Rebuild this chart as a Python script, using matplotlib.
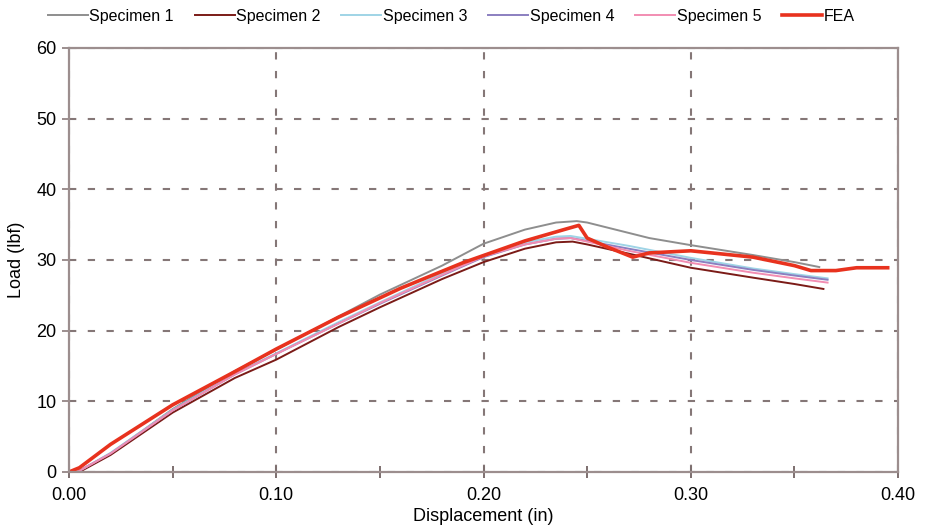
import numpy as np
import matplotlib
matplotlib.use("Agg")
from matplotlib import pyplot as plt
from matplotlib.ticker import MultipleLocator

plt.rcParams['font.family'] = ['Liberation Sans', 'DejaVu Sans']

# test curves (displacement in, load lbf)
x1 = [0.004, 0.02, 0.05, 0.08, 0.10, 0.13, 0.15, 0.18, 0.20, 0.22, 0.235, 0.245, 0.25, 0.265, 0.28, 0.30, 0.33, 0.35, 0.362]
y1 = [0.0, 2.6, 8.9, 14.3, 17.3, 22.0, 25.1, 29.2, 32.3, 34.3, 35.3, 35.5, 35.3, 34.2, 33.1, 32.1, 30.7, 29.7, 29.0]

x2 = [0.005, 0.02, 0.05, 0.08, 0.10, 0.13, 0.15, 0.18, 0.20, 0.22, 0.235, 0.243, 0.25, 0.27, 0.30, 0.33, 0.35, 0.364]
y2 = [0.0, 2.4, 8.4, 13.3, 15.9, 20.5, 23.3, 27.3, 29.7, 31.6, 32.5, 32.6, 32.2, 30.9, 28.9, 27.5, 26.6, 25.9]

x3 = [0.004, 0.02, 0.05, 0.08, 0.10, 0.13, 0.15, 0.18, 0.20, 0.22, 0.235, 0.242, 0.25, 0.27, 0.30, 0.33, 0.35, 0.366]
y3 = [0.0, 2.7, 8.8, 13.9, 16.8, 21.2, 24.0, 28.1, 30.7, 32.5, 33.3, 33.4, 33.0, 32.0, 30.3, 28.8, 28.0, 27.4]

x4 = [0.004, 0.02, 0.05, 0.08, 0.10, 0.13, 0.15, 0.18, 0.20, 0.22, 0.235, 0.242, 0.25, 0.27, 0.30, 0.33, 0.35, 0.366]
y4 = [0.0, 2.6, 8.7, 13.8, 16.7, 21.0, 23.8, 27.8, 30.4, 32.2, 33.0, 33.1, 32.7, 31.6, 30.0, 28.6, 27.8, 27.2]

x5 = [0.004, 0.02, 0.05, 0.08, 0.10, 0.13, 0.15, 0.18, 0.20, 0.22, 0.235, 0.242, 0.25, 0.27, 0.30, 0.33, 0.35, 0.366]
y5 = [0.0, 2.6, 8.7, 13.8, 16.7, 21.0, 23.9, 27.9, 30.5, 32.2, 33.0, 33.1, 32.6, 31.3, 29.6, 28.2, 27.4, 26.8]

x_fea = [0.0, 0.005, 0.02, 0.05, 0.08, 0.10, 0.13, 0.16, 0.19, 0.22, 0.24, 0.246, 0.25, 0.26, 0.272, 0.28, 0.30, 0.33, 0.35, 0.358, 0.37, 0.38, 0.395]
y_fea = [0.0, 0.6, 3.9, 9.5, 14.2, 17.4, 21.9, 26.0, 29.6, 32.7, 34.4, 34.9, 33.1, 31.8, 30.4, 31.0, 31.3, 30.4, 29.2, 28.5, 28.5, 28.9, 28.9]

series = [
    ("Specimen 1", x1, y1, "#8e8e8e", 1.4),
    ("Specimen 2", x2, y2, "#7b1b17", 1.4),
    ("Specimen 3", x3, y3, "#9fd4e6", 1.4),
    ("Specimen 4", x4, y4, "#8b7fc0", 1.4),
    ("Specimen 5", x5, y5, "#f28db2", 1.4),
    ("FEA", x_fea, y_fea, "#e8321e", 2.6),
]

fig = plt.figure(figsize=(9.34, 5.29), dpi=100)
ax = fig.add_axes([0.0739, 0.1078, 0.8876, 0.8015])

for name, xs, ys, col, lw in series:
    ax.plot(xs, ys, color=col, lw=lw, label=name)

ax.set_xlim(0, 0.40)
ax.set_ylim(0, 60)
ax.xaxis.set_major_locator(MultipleLocator(0.1))
ax.xaxis.set_minor_locator(MultipleLocator(0.05))
ax.yaxis.set_major_locator(MultipleLocator(10))
ax.xaxis.set_major_formatter(plt.FuncFormatter(lambda v, p: "%.2f" % v))

edge = "#9c8e8e"
for s in ax.spines.values():
    s.set_color(edge)
    s.set_linewidth(1.6)
ax.tick_params(axis='x', which='both', direction='inout', length=9, width=1.4, color="#7d6f6f", labelsize=13, pad=6)
ax.tick_params(axis='y', direction='out', length=5, width=1.4, color="#9c8e8e", labelsize=13, pad=4)

# dashed grid
ax.grid(True, which='major', color="#857777", lw=1.5, ls=(0, (3.5, 5.5)))

ax.set_xlabel("Displacement (in)", fontsize=13, labelpad=3)
ax.set_ylabel("Load (lbf)", fontsize=13, labelpad=8)

fig.legend(loc='upper center', bbox_to_anchor=(0.483, 1.01), ncol=6, frameon=False,
           fontsize=11.5, handlelength=2.5, handletextpad=0.1, columnspacing=1.3)

fig.savefig("out.png", dpi=100)
